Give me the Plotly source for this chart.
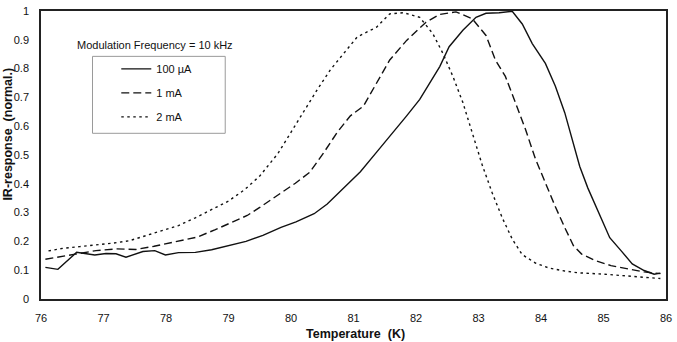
import plotly.graph_objects as go

# ---- data ----
t_100uA = [76.07, 76.27, 76.57, 76.70, 76.86, 77.04, 77.2, 77.36, 77.63, 77.82, 77.99, 78.2, 78.47,
           78.73, 79.0, 79.28, 79.55, 79.84, 80.08, 80.37, 80.58, 80.84, 81.11, 81.37, 81.64, 81.85,
           82.06, 82.22, 82.38, 82.53, 82.75, 82.96, 83.12, 83.33, 83.54, 83.7, 83.86, 84.07, 84.23,
           84.38, 84.5, 84.62, 84.75, 84.94, 85.1, 85.28, 85.46, 85.65, 85.81, 85.91]
r_100uA = [0.11, 0.103, 0.162, 0.159, 0.153, 0.158, 0.157, 0.145, 0.165, 0.168, 0.153, 0.161, 0.162,
           0.171, 0.186, 0.2, 0.221, 0.249, 0.268, 0.296, 0.33, 0.385, 0.442, 0.51, 0.579, 0.636,
           0.693, 0.75, 0.807, 0.876, 0.933, 0.978, 0.992, 0.994, 0.999, 0.955, 0.887, 0.818, 0.739,
           0.647, 0.55, 0.46, 0.385, 0.293, 0.213, 0.168, 0.122, 0.099, 0.086, 0.09]

t_1mA = [76.07, 76.57, 76.88, 77.2, 77.52, 77.81, 78.04, 78.26, 78.5, 78.78, 79.05, 79.3, 79.5,
         79.79, 80.07, 80.3, 80.53, 80.74, 80.95, 81.16, 81.37, 81.58, 81.85, 82.16, 82.38, 82.64,
         82.9, 83.12, 83.27, 83.43, 83.59, 83.75, 83.91, 84.07, 84.23, 84.38, 84.52, 84.65, 84.86,
         85.12, 85.39, 85.65, 85.91]
r_1mA = [0.138, 0.156, 0.168, 0.174, 0.172, 0.183, 0.194, 0.202, 0.215, 0.24, 0.265, 0.29, 0.318,
         0.36, 0.402, 0.44, 0.51, 0.579, 0.636, 0.67, 0.75, 0.83, 0.898, 0.961, 0.988, 0.997,
         0.973, 0.915, 0.83, 0.773, 0.682, 0.59, 0.487, 0.40, 0.32, 0.248, 0.185, 0.156, 0.134,
         0.116, 0.105, 0.094, 0.088]

t_2mA = [76.12, 76.35, 76.62, 76.88, 77.15, 77.41, 77.67, 77.94, 78.2, 78.47, 78.73, 79.0, 79.26,
         79.5, 79.79, 80.0, 80.21, 80.42, 80.63, 80.84, 81.06, 81.27, 81.37, 81.58, 81.8, 82.06,
         82.27, 82.43, 82.59, 82.75, 82.91, 83.06, 83.22, 83.38, 83.54, 83.7, 83.91, 84.12, 84.38,
         84.59, 85.02, 85.39, 85.91]
r_2mA = [0.167, 0.176, 0.182, 0.187, 0.194, 0.202, 0.219, 0.236, 0.255, 0.282, 0.31, 0.34, 0.38,
         0.427, 0.505, 0.579, 0.658, 0.727, 0.796, 0.853, 0.91, 0.933, 0.944, 0.99, 0.994, 0.978,
         0.921, 0.853, 0.773, 0.682, 0.568, 0.465, 0.368, 0.282, 0.208, 0.154, 0.125, 0.108, 0.097,
         0.091, 0.086, 0.079, 0.071]

x_ticks = [76, 77, 78, 79, 80, 81, 82, 83, 84, 85, 86]
y_ticks = [0, 0.1, 0.2, 0.3, 0.4, 0.5, 0.6, 0.7, 0.8, 0.9, 1]
y_tick_labels = ["0", "0.1", "0.2", "0.3", "0.4", "0.5", "0.6", "0.7", "0.8", "0.9", "1"]

FONT = "Arial, Liberation Sans, sans-serif"
INK = "#111111"

fig = go.Figure()
fig.add_trace(go.Scatter(x=t_100uA, y=r_100uA, mode="lines", name="100 µA",
                         line=dict(color=INK, width=1.4, dash="solid"), legendgroup="a"))
fig.add_trace(go.Scatter(x=t_1mA, y=r_1mA, mode="lines", name="1 mA",
                         line=dict(color=INK, width=1.4, dash="8px,4px"), legendgroup="b"))
fig.add_trace(go.Scatter(x=t_2mA, y=r_2mA, mode="lines", name="2 mA",
                         line=dict(color=INK, width=1.4, dash="2.5px,3.5px"), legendgroup="c"))

L, R, T, B = 41, 5, 7, 43
W, H = 677, 342
pw, ph = W - L - R, H - T - B

def px_x(p):
    return (p - L) / pw

def px_y(p):
    return (H - B - p) / ph

fig.update_layout(
    width=W, height=H,
    margin=dict(l=L, r=R, t=T, b=B, pad=0),
    paper_bgcolor="white", plot_bgcolor="white",
    font=dict(family=FONT, size=11, color=INK),
    showlegend=True,
    legend=dict(x=px_x(117), y=px_y(51), xanchor="left", yanchor="top",
                bgcolor="rgba(0,0,0,0)", borderwidth=0,
                font=dict(family=FONT, size=11, color=INK),
                tracegroupgap=5, itemwidth=30),
    xaxis=dict(range=[76, 86], tickvals=x_ticks, ticks="", showgrid=False, zeroline=False,
               showline=True, linecolor="#222222", linewidth=1.5, mirror=True,
               ticklabelstandoff=8, tickfont=dict(size=11)),
    yaxis=dict(range=[0, 1], tickvals=y_ticks, ticktext=y_tick_labels, ticks="",
               showgrid=False, zeroline=False,
               showline=True, linecolor="#222222", linewidth=1.5, mirror=True,
               ticklabelstandoff=8, tickfont=dict(size=11)),
    shapes=[dict(type="rect", xref="paper", yref="paper",
                 x0=px_x(93), x1=px_x(227), y0=px_y(131), y1=px_y(53),
                 line=dict(color="#9a9a9a", width=1), fillcolor="rgba(0,0,0,0)")],
    annotations=[
        dict(text="Modulation Frequency = 10 kHz", xref="paper", yref="paper",
             x=px_x(75), y=px_y(41), xanchor="left", yanchor="middle", showarrow=False,
             font=dict(family=FONT, size=11, color=INK)),
        dict(text="<b>Temperature  (K)</b>", xref="paper", yref="paper",
             x=px_x(359), y=px_y(334), xanchor="center", yanchor="middle", showarrow=False,
             font=dict(family=FONT, size=12.5, color=INK)),
        dict(text="<b>IR-response  (normal.)</b>", xref="paper", yref="paper",
             x=px_x(8), y=px_y(132), xanchor="center", yanchor="middle", showarrow=False,
             textangle=-90, font=dict(family=FONT, size=12.5, color=INK)),
    ],
)

fig.write_html("out.html")
